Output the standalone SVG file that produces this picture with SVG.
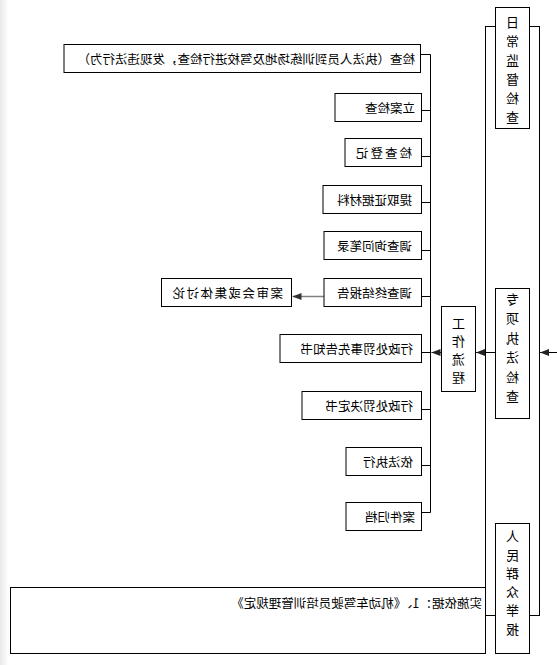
<svg xmlns="http://www.w3.org/2000/svg" width="557" height="665" viewBox="0 0 557 665">
<style>
.box{fill:#fff;stroke:#000;stroke-width:1}
.ln{fill:none;stroke:#000;stroke-width:1}
.t{font-family:"Noto Sans CJK SC","Liberation Sans",sans-serif;font-size:12.5px;fill:#000;dominant-baseline:central}
.v{font-family:"Noto Sans CJK SC","Liberation Sans",sans-serif;font-size:13px;fill:#000;text-anchor:middle;dominant-baseline:central}
</style>
<defs>
<linearGradient id="shade" x1="0" y1="0" x2="1" y2="0">
<stop offset="0" stop-color="#e9e9e9"/>
<stop offset="1" stop-color="#ffffff"/>
</linearGradient>
<marker id="ah" markerWidth="9" markerHeight="7" refX="9" refY="3.5" orient="auto" markerUnits="userSpaceOnUse">
<path d="M0,0 L9,3.5 L0,7 z" fill="#222"/>
</marker>
<marker id="ahg" markerWidth="9" markerHeight="7" refX="9" refY="3.5" orient="auto" markerUnits="userSpaceOnUse">
<path d="M0,0 L9,3.5 L0,7 z" fill="#333"/>
</marker>
</defs>
<rect x="0" y="0" width="557" height="665" fill="#fff"/>
<rect x="0" y="0" width="9" height="665" fill="url(#shade)"/>
<g transform="matrix(-1 0 0 1 557 0)">
<g id="bracket"><rect class="ln" x="17.5" y="26.5" width="54" height="589"/></g>
<g id="connectors">
<line class="ln" x1="126.5" y1="54.5" x2="126.5" y2="512.5"/>
<line class="ln" x1="126.5" y1="54.5" x2="136.5" y2="54.5"/>
<line class="ln" x1="126.5" y1="110.5" x2="135.5" y2="110.5"/>
<line class="ln" x1="126.5" y1="156.5" x2="135.5" y2="156.5"/>
<line class="ln" x1="126.5" y1="202.5" x2="135.5" y2="202.5"/>
<line class="ln" x1="126.5" y1="250.5" x2="135.5" y2="250.5"/>
<line class="ln" x1="126.5" y1="296.5" x2="135.5" y2="296.5"/>
<line class="ln" x1="126.5" y1="352.5" x2="135.5" y2="352.5"/>
<line class="ln" x1="126.5" y1="409.5" x2="135.5" y2="409.5"/>
<line class="ln" x1="126.5" y1="465.5" x2="135.5" y2="465.5"/>
<line class="ln" x1="126.5" y1="512.5" x2="136.5" y2="512.5"/>
<line class="ln" x1="0" y1="352.5" x2="17" y2="352.5" stroke="#888" marker-end="url(#ah)"/>
<line class="ln" x1="61.5" y1="352.5" x2="81" y2="352.5" marker-end="url(#ah)"/>
<line class="ln" x1="115.5" y1="352.5" x2="125.5" y2="352.5" marker-end="url(#ah)"/>
<line x1="233" y1="296.5" x2="264.5" y2="296.5" stroke="#808080" stroke-width="1.5" marker-end="url(#ahg)"/>
</g>
<g id="n-top"><rect class="box" x="136.5" y="44.5" width="356.5" height="28"/><text class="t" x="142" y="58">检查（执法人员到训练场地及驾校进行检查，发现违法行为）</text></g>
<g id="n-lian"><rect class="box" x="135.5" y="93.5" width="86.5" height="28"/><text class="t" x="142" y="107">立案检查</text></g>
<g id="n-dengji"><rect class="box" x="135.5" y="138.5" width="76.5" height="28"/><text class="t" x="145" y="152" letter-spacing="2">检查登记</text></g>
<g id="n-tiqu"><rect class="box" x="135.5" y="185.5" width="98.5" height="28"/><text class="t" x="145" y="199">提取证据材料</text></g>
<g id="n-xunwen"><rect class="box" x="135.5" y="231.5" width="97.5" height="28"/><text class="t" x="145" y="245">调查询问笔录</text></g>
<g id="n-zhongjie"><rect class="box" x="135.5" y="278.5" width="97.5" height="28"/><text class="t" x="145" y="292">调查终结报告</text></g>
<g id="n-anshen"><rect class="box" x="265.5" y="278.5" width="130" height="28"/><text class="t" x="274" y="292" letter-spacing="1.5">案审会或集体讨论</text></g>
<g id="n-gaozhi"><rect class="box" x="135.5" y="334.5" width="141.5" height="28"/><text class="t" x="144" y="348">行政处罚事先告知书</text></g>
<g id="n-jueding"><rect class="box" x="135.5" y="391.5" width="119.5" height="28"/><text class="t" x="144" y="405">行政处罚决定书</text></g>
<g id="n-zhixing"><rect class="box" x="135.5" y="447.5" width="75.5" height="28"/><text class="t" x="144" y="461">依法执行</text></g>
<g id="n-guidang"><rect class="box" x="135.5" y="502.5" width="75.5" height="28"/><text class="t" x="142" y="516">案件归档</text></g>
<g id="n-gongzuo"><rect class="box" x="81.5" y="306.5" width="34" height="85"/>
<text class="v"><tspan x="98.5" y="321.5">工</tspan><tspan x="98.5" y="339.5">作</tspan><tspan x="98.5" y="357.5">流</tspan><tspan x="98.5" y="375.5">程</tspan></text></g>
<g id="n-richang"><rect class="box" x="27.5" y="7.5" width="34" height="121"/>
<text class="v"><tspan x="44.5" y="20.5">日</tspan><tspan x="44.5" y="39.6">常</tspan><tspan x="44.5" y="58.7">监</tspan><tspan x="44.5" y="77.8">督</tspan><tspan x="44.5" y="96.9">检</tspan><tspan x="44.5" y="116">查</tspan></text></g>
<g id="n-zhuanxiang"><rect class="box" x="27.5" y="288.5" width="34" height="130"/>
<text class="v"><tspan x="44.5" y="298">专</tspan><tspan x="44.5" y="317.4">项</tspan><tspan x="44.5" y="336.8">执</tspan><tspan x="44.5" y="356.2">法</tspan><tspan x="44.5" y="375.6">检</tspan><tspan x="44.5" y="395">查</tspan></text></g>
<g id="n-renmin"><rect class="box" x="27.5" y="523.5" width="34" height="130"/>
<text class="v"><tspan x="44.5" y="535">人</tspan><tspan x="44.5" y="553.6">民</tspan><tspan x="44.5" y="572.2">群</tspan><tspan x="44.5" y="590.8">众</tspan><tspan x="44.5" y="609.4">举</tspan><tspan x="44.5" y="628">报</tspan></text></g>
<g id="n-yiju"><rect class="box" x="71.5" y="587.5" width="475" height="66"/><text class="t" x="75" y="602">实施依据：1、《机动车驾驶员培训管理规定》</text></g>
</g>
</svg>
